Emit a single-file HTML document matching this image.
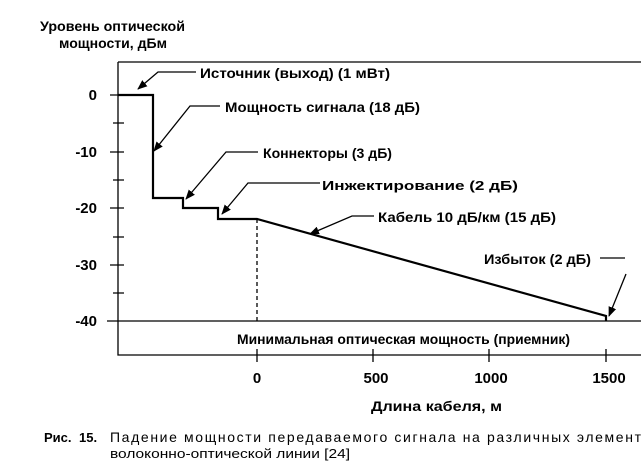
<!DOCTYPE html>
<html><head><meta charset="utf-8"><style>
body{margin:0;background:#fff;width:641px;height:471px;overflow:hidden}
svg text{font-family:"Liberation Sans",Arial,sans-serif;fill:#000}
.b{font-weight:bold;font-size:14px}
</style></head><body>
<svg width="641" height="471" viewBox="0 0 641 471">
<defs><marker id="a" markerWidth="10" markerHeight="10" refX="9" refY="5" orient="auto" markerUnits="userSpaceOnUse"><path d="M0,1 L10,5 L0,9 z" fill="#000"/></marker></defs>
<g class="b">
<text x="40" y="31" textLength="145" lengthAdjust="spacingAndGlyphs">Уровень оптической</text>
<text x="59" y="48" textLength="108" lengthAdjust="spacingAndGlyphs">мощности, дБм</text>
</g>
<g stroke="#000" stroke-width="1.3" fill="none">
<path d="M118,62 H641"/>
<path d="M118,62 V355 H641"/>
<path d="M107,321 H641"/>
<path d="M110,95 H124 M113,123 H124 M110,152 H124 M113,180 H124 M110,208 H124 M113,237 H124 M110,265 H124 M113,293 H124"/>
<path d="M257,349 V362 M373,349 V362 M489,349 V362 M606,349 V362"/>
<path d="M257,219 V321" stroke-dasharray="4,3"/>
</g>
<path d="M118,95 H153 V198 H183 V208 H218 V219 H257 L606,316 V321" stroke="#000" stroke-width="2.2" fill="none"/>
<g stroke="#000" stroke-width="1.3" fill="none" marker-end="url(#a)">
<path d="M196,72 H158 L138,89"/>
<path d="M220,106 H190 L154,151"/>
<path d="M258,152 H226 L186,199"/>
<path d="M320,183 H248 L222,214"/>
<path d="M374,216 H352 L310,234"/>
<path d="M626,274 L609,316"/>
</g>
<path d="M600,258 H625" stroke="#000" stroke-width="1.3"/>
<g class="b">
<text x="200" y="78" textLength="190" lengthAdjust="spacingAndGlyphs">Источник (выход) (1 мВт)</text>
<text x="225" y="112" textLength="195" lengthAdjust="spacingAndGlyphs">Мощность сигнала (18 дБ)</text>
<text x="263" y="158" textLength="129" lengthAdjust="spacingAndGlyphs">Коннекторы (3 дБ)</text>
<text x="322" y="190" font-size="13" textLength="196" lengthAdjust="spacingAndGlyphs">Инжектирование (2 дБ)</text>
<text x="378" y="222" textLength="178" lengthAdjust="spacingAndGlyphs">Кабель 10 дБ/км (15 дБ)</text>
<text x="484" y="264" textLength="107" lengthAdjust="spacingAndGlyphs">Избыток (2 дБ)</text>
<text x="237" y="344" textLength="333" lengthAdjust="spacingAndGlyphs">Минимальная оптическая мощность (приемник)</text>
<text x="371" y="411" textLength="131" lengthAdjust="spacingAndGlyphs">Длина кабеля, м</text>
</g>
<g font-weight="bold" font-size="15">
<text x="97" y="100" text-anchor="end">0</text>
<text x="97" y="157" text-anchor="end">-10</text>
<text x="97" y="213" text-anchor="end">-20</text>
<text x="97" y="270" text-anchor="end">-30</text>
<text x="97" y="326" text-anchor="end">-40</text>
<text x="257" y="383" text-anchor="middle">0</text>
<text x="376" y="383" text-anchor="middle">500</text>
<text x="491" y="383" text-anchor="middle">1000</text>
<text x="609" y="383" text-anchor="middle">1500</text>
</g>
<text x="44" y="442" font-size="13" font-weight="bold">Рис.</text>
<text x="79" y="442" font-size="13" font-weight="bold">15.</text>
<text x="110" y="442" font-size="14" textLength="531" lengthAdjust="spacing">Падение мощности передаваемого сигнала на различных элемент</text>
<text x="110" y="458" font-size="13" textLength="240" lengthAdjust="spacingAndGlyphs">волоконно-оптической линии [24]</text>
</svg>
</body></html>
